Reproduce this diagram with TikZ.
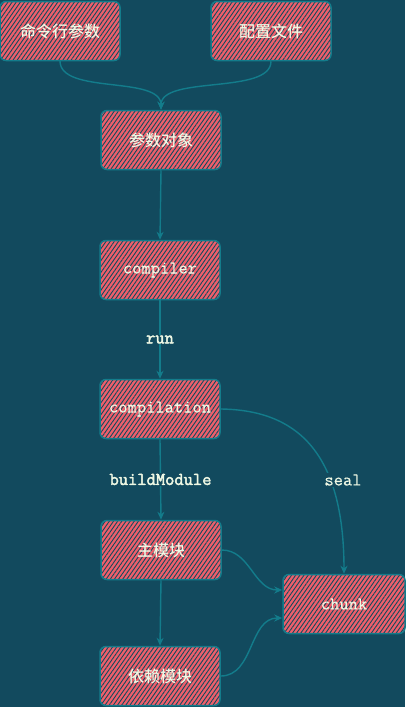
\documentclass[tikz,border=0pt]{standalone}
\usepackage{fontspec}
\setmonofont{Latin Modern Mono}[FakeBold=0.3]
\newfontfamily\monobold{Latin Modern Mono}[FakeBold=2.6]
\newfontfamily\cjk{Noto Sans CJK SC}[UprightFont={* Medium}]
\usetikzlibrary{patterns.meta}
\usetikzlibrary{arrows.meta}
\definecolor{bgteal}{HTML}{124A5E}
\definecolor{boxred}{HTML}{EE5F6B}
\definecolor{edgeteal}{HTML}{137C8B}
\definecolor{textcream}{HTML}{EEF8E4}
\tikzstyle{sketchbox}=[draw=edgeteal, line width=1.5pt, rounded corners=6pt,
                       minimum width=120pt, minimum height=59pt, inner sep=0,
                       % Red hatch on the dark background.
                       preaction={fill=boxred},
                       pattern={Lines[angle=55, distance=3.4pt, line width=0.9pt]}, pattern color=bgteal,
                       text=textcream]
\tikzstyle{cnbox}=[sketchbox, font=\cjk\fontsize{16}{18}\selectfont]
\tikzstyle{codebox}=[sketchbox, font=\ttfamily\fontsize{18}{20}\selectfont]
\tikzstyle{flow}=[draw=edgeteal, line width=1.4pt, -{Stealth[length=8pt, width=7pt]}]
\tikzstyle{flowlabel}=[fill=bgteal, inner sep=1pt, text=textcream, font=\ttfamily\fontsize{18}{20}\selectfont]
\tikzstyle{boldlabel}=[flowlabel, font=\monobold\fontsize{18}{20}\selectfont]

\begin{document}
\begin{tikzpicture}[x=1pt, y=1pt]
        \fill[bgteal] (0, 0) rectangle (405, -707);
        \useasboundingbox (0, 0) rectangle (405, -707);
        \node[cnbox] (cmdargs) at (60, -31) {命令行参数};
        \node[cnbox] (config) at (271, -31) {配置文件};
        \node[cnbox] (options) at (161, -140) {参数对象};
        \node[codebox] (compiler) at (160, -270) {compiler};
        \node[codebox] (compilation) at (160, -409) {compilation};
        \node[cnbox] (mainmod) at (161, -550) {主模块};
        \node[cnbox] (depmod) at (160, -676) {依赖模块};
        \node[codebox, minimum width=122pt] (chunk) at (344, -604) {chunk};
        \draw[flow] (cmdargs.south) .. controls (60, -95) and (161, -75) .. (options.north);
        \draw[flow] (config.south) .. controls (271, -95) and (161, -75) .. (options.north);
        \draw[flow] (options.south) -- (compiler.north);
        \draw[flow] (compiler.south) -- node[boldlabel] {run} (compilation.north);
        \draw[flow] (compilation.south) -- node[boldlabel] {buildModule} (mainmod.north);
        \draw[flow] (compilation.east) .. controls (295, -410) and (344, -450) .. (chunk.north);
        \node[flowlabel] (seal) at (343, -480) {seal};
        \draw[flow] (mainmod.south) -- (depmod.north);
        \draw[flow] (mainmod.east) to[out=0, in=180] ([yshift=14pt]chunk.west);
        \draw[flow] (depmod.east) to[out=0, in=180] ([yshift=-14pt]chunk.west);
    \end{tikzpicture}
\end{document}
